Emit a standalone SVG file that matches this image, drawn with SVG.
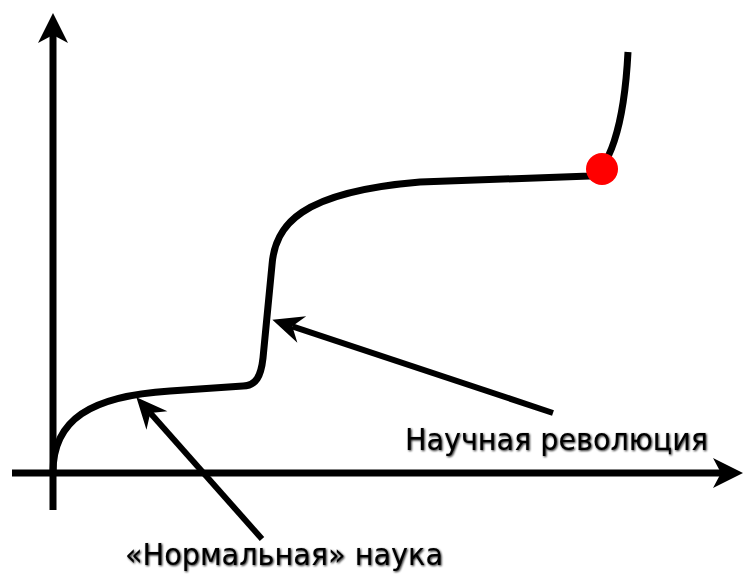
<svg xmlns="http://www.w3.org/2000/svg" width="744" height="574" viewBox="0 0 744 574">
  <style>
    .axis { stroke: #000; stroke-width: 7; fill: none; }
    .curve { stroke: #000; stroke-width: 7; fill: none; stroke-linejoin: round; }
    .pointer { stroke: #000; stroke-width: 6; fill: none; }
    .label { font-family: "DejaVu Sans", Verdana, sans-serif; font-size: 31px; fill: #000; filter: url(#soft); }
  </style>
  <defs>
    <filter id="soft" x="-5%" y="-30%" width="110%" height="160%">
      <feGaussianBlur in="SourceAlpha" stdDeviation="1.3" result="b"/>
      <feOffset in="b" dx="1" dy="1" result="o"/>
      <feComponentTransfer in="o" result="s"><feFuncA type="linear" slope="0.9"/></feComponentTransfer>
      <feMerge><feMergeNode in="s"/><feMergeNode in="SourceGraphic"/></feMerge>
    </filter>
    <marker id="axisHead" markerUnits="userSpaceOnUse" markerWidth="40" markerHeight="40" refX="8" refY="0" orient="auto" overflow="visible">
      <path d="M0,-15 L30,0 L0,15 L8,0 Z" fill="#000"/>
    </marker>
    <marker id="pointerHead" markerUnits="userSpaceOnUse" markerWidth="40" markerHeight="40" refX="10" refY="0" orient="auto" overflow="visible">
      <path d="M0,-14 L31,0 L0,14 L10,0 Z" fill="#000"/>
    </marker>
  </defs>

  <g id="axes">
    <line class="axis" x1="53" y1="510" x2="53" y2="35" marker-end="url(#axisHead)"/>
    <line class="axis" x1="12" y1="473" x2="721" y2="473" marker-end="url(#axisHead)"/>
  </g>

  <g id="growth-curve">
    <path class="curve" d="M53,472 C53,420 90,396 170,391 L243,386 C256,386 261,376 263,358 L272,265 C275,225 300,192 420,182 L590,176 C608,170 624,130 628,52"/>
  </g>

  <g id="crisis-point">
    <circle cx="602" cy="169" r="16" fill="#ff0000"/>
  </g>

  <g id="connectors">
    <line class="pointer" x1="553" y1="413" x2="292.3" y2="326.3" marker-end="url(#pointerHead)"/>
    <line class="pointer" x1="262" y1="539" x2="150.3" y2="413" marker-end="url(#pointerHead)"/>
  </g>

  <g id="label-revolution">
    <text class="label" x="405" y="450" textLength="303" lengthAdjust="spacingAndGlyphs">Научная революция</text>
  </g>

  <g id="label-normal">
    <text class="label" x="125" y="565" textLength="318" lengthAdjust="spacingAndGlyphs">«Нормальная» наука</text>
  </g>
</svg>
